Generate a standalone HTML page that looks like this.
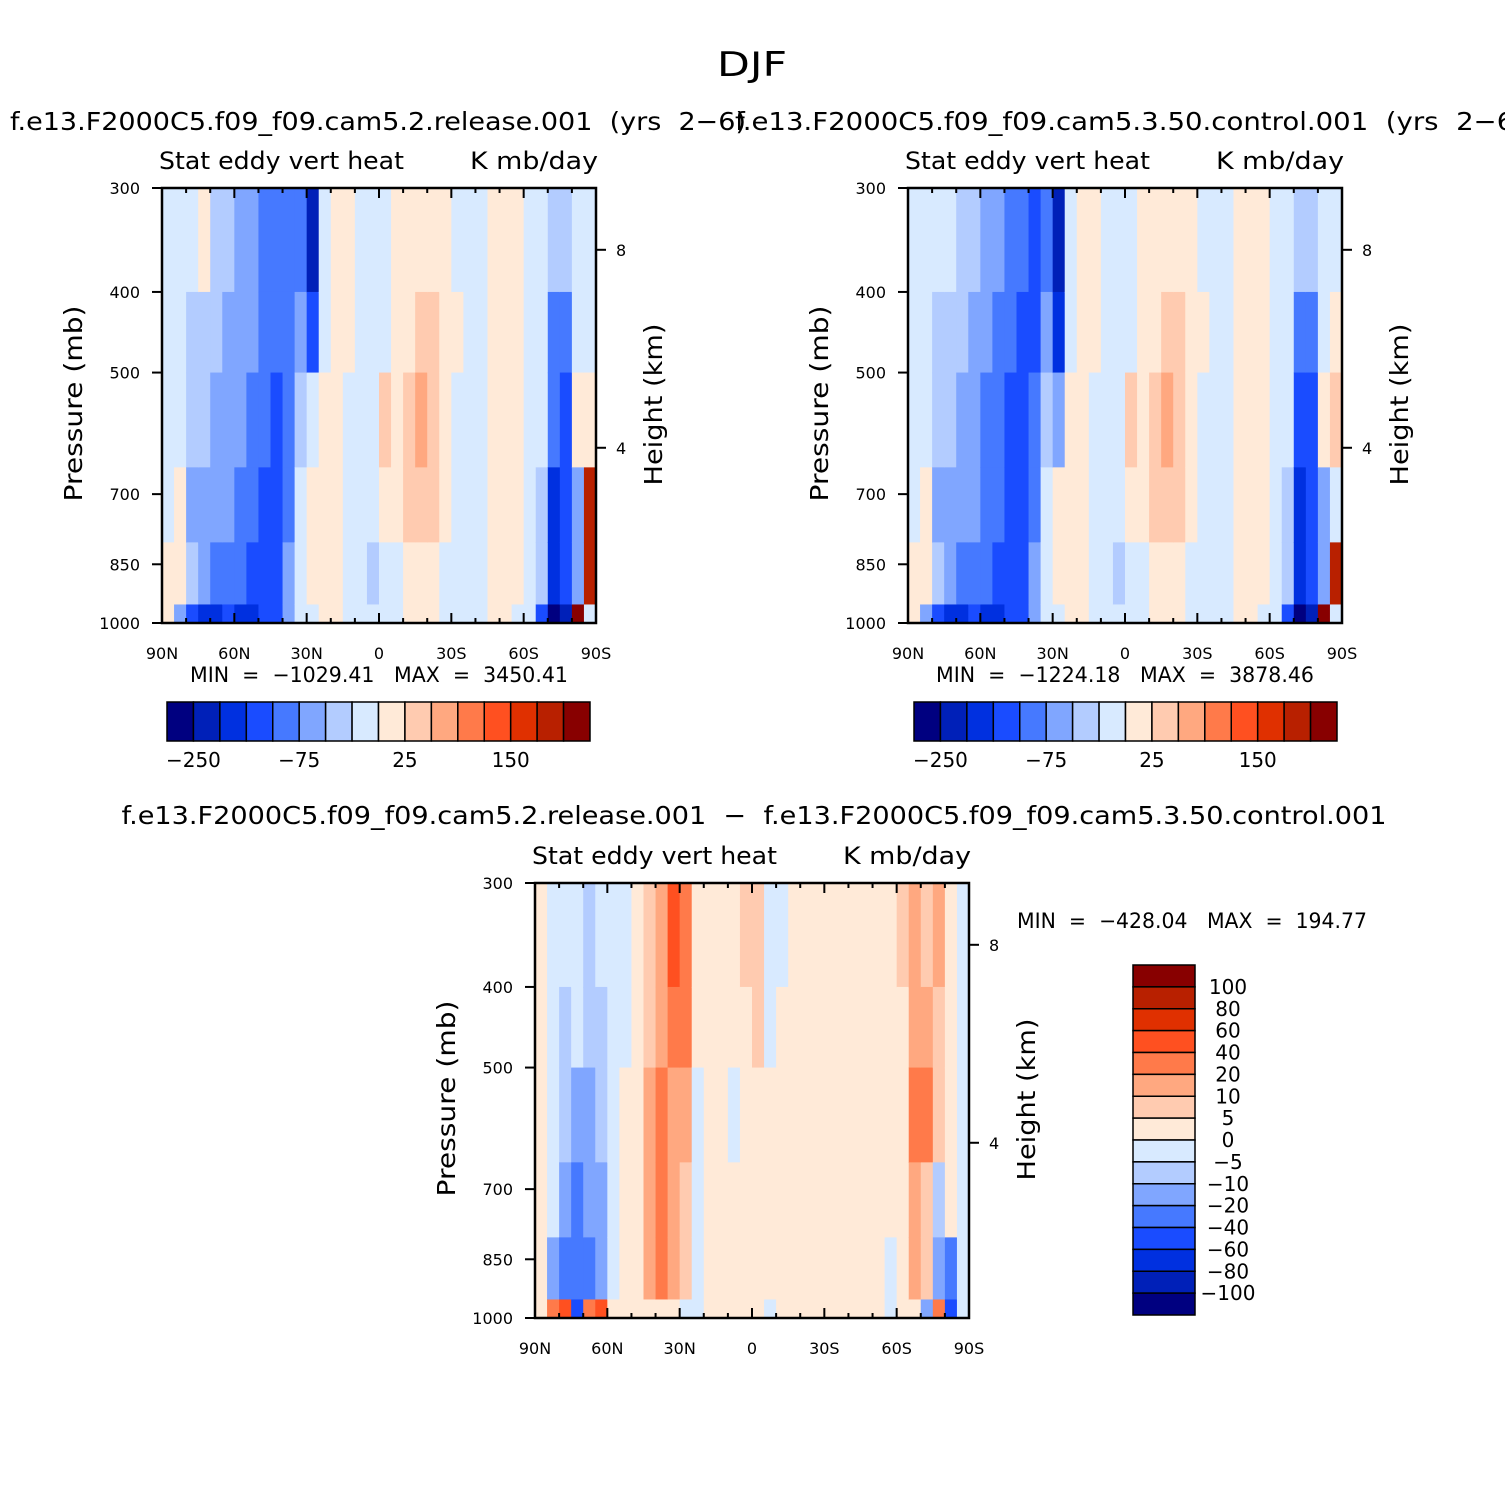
<!DOCTYPE html>
<html><head><meta charset="utf-8"><style>
body{margin:0;background:#fff}
svg text{font-family:"DejaVu Sans","Liberation Sans",sans-serif;fill:#000}
</style></head><body>
<svg id="fig" xmlns="http://www.w3.org/2000/svg" width="1505" height="1505" viewBox="0 0 1505 1505">
<rect width="1505" height="1505" fill="#fff"/>
<text x="752" y="76" font-size="34" text-anchor="middle" textLength="70" lengthAdjust="spacingAndGlyphs">DJF</text>
</svg>
<script>
// ---- data ----
const latLabels = ["90N","60N","30N","0","30S","60S","90S"];
const pressureTicks = [300,400,500,700,850,1000];
const heightTicks = [8,4];
const pressureRows = [300,400,500,650,800,950,1000];
const levelsAbs = [-250,-200,-150,-100,-75,-50,-25,0,25,50,75,100,150,200,250];
const levelsDiff = [-100,-80,-60,-40,-20,-10,-5,0,5,10,20,40,60,80,100];
const absBarLabels = ["-250","-75","25","150"];
const diffBarLabels = ["100","80","60","40","20","10","5","0","-5","-10","-20","-40","-60","-80","-100"];
const palette = ["#000080","#0020b8","#0030e0","#1a4cff","#4679ff","#80a6ff","#b3ccff","#d8eaff","#ffead8","#ffcbb0","#ffa880","#ff7a4a","#ff5020","#e03000","#b82000","#880000"];
// columns from 90N to 90S (5 deg), rows top(300mb) to bottom(1000mb)
const field1 = [
[-10,-10,-10,-10,10,10],[-10,-10,-10,10,10,-60],[-10,-40,-40,-60,-40,-120],[10,-40,-40,-60,-60,-180],
[-40,-40,-60,-60,-90,-180],[-40,-60,-60,-60,-90,-120],[-60,-60,-60,-90,-90,-180],[-60,-60,-90,-90,-120,-180],
[-90,-90,-90,-120,-120,-120],[-90,-90,-120,-120,-120,-120],[-90,-90,-90,-90,-60,-60],[-90,-60,-40,-10,-10,-10],
[-220,-120,-10,10,10,-10],[-10,-10,10,10,10,10],[10,10,10,10,10,10],[10,10,-10,-10,-10,-10],
[-10,-10,-10,-10,-10,-10],[-10,-10,-10,-10,-40,-10],[-10,-10,40,10,-10,-10],[10,10,10,10,-10,-10],
[10,10,40,40,10,10],[10,40,60,40,10,10],[10,40,40,40,10,10],[10,10,10,10,-10,-10],
[-10,10,-10,-10,-10,-10],[-10,-10,-10,-10,-10,-10],[-10,-10,-10,-10,-10,-10],[10,10,10,10,10,10],
[10,10,10,10,10,10],[10,10,10,10,10,-10],[-10,-10,-10,-10,-10,-10],[-10,-10,-10,-40,-40,-120],
[-40,-90,-90,-180,-180,-300],[-40,-90,-120,-120,-120,-250],[-10,-10,10,-60,-60,300],[-10,-10,10,200,200,-10]];
const field2 = [
[-10,-10,-10,-10,10,10],[-10,-10,-10,10,10,-60],[-10,-40,-40,-60,-40,-120],[-10,-40,-40,-60,-60,-180],
[-40,-40,-60,-60,-90,-180],[-40,-60,-60,-60,-90,-120],[-60,-60,-90,-90,-90,-180],[-60,-90,-90,-90,-120,-180],
[-90,-90,-120,-120,-120,-120],[-90,-120,-120,-120,-120,-120],[-120,-120,-90,-90,-60,-60],[-90,-60,-40,-10,-10,-10],
[-220,-180,-60,10,10,-10],[-10,-10,10,10,10,10],[10,10,10,10,10,10],[10,10,-10,-10,-10,-10],
[-10,-10,-10,-10,-10,-10],[-10,-10,-10,-10,-40,-10],[-10,-10,40,10,-10,-10],[10,10,10,10,-10,-10],
[10,10,40,40,10,10],[10,40,60,40,10,10],[10,40,40,40,10,10],[10,10,10,10,-10,-10],
[-10,10,-10,-10,-10,-10],[-10,-10,-10,-10,-10,-10],[-10,-10,-10,-10,-10,-10],[10,10,10,10,10,10],
[10,10,10,10,10,10],[10,10,10,10,10,-10],[-10,-10,-10,-10,-10,-10],[-10,-10,-10,-40,-40,-120],
[-40,-90,-120,-180,-180,-300],[-40,-90,-120,-120,-120,-250],[-10,-10,10,-60,-60,300],[-10,10,40,-10,200,-10]];
const field3 = [
[2,2,2,2,2,2],[-2,-2,-2,-2,-15,30],[-2,-7,-7,-15,-30,50],[-2,-2,-15,-30,-30,-60],
[-7,-7,-15,-15,-30,30],[-2,-7,-7,-15,-15,40],[-2,-2,-2,-2,-2,2],[-2,-2,2,2,2,2],
[2,2,2,2,2,2],[7,7,15,15,15,2],[15,15,30,30,30,2],[50,30,15,15,15,2],
[30,30,15,7,7,-2],[2,2,-2,-2,-2,-2],[2,2,2,2,2,2],[2,2,2,2,2,2],
[2,2,-2,2,2,2],[7,2,2,2,2,2],[7,7,2,2,2,2],[-2,-2,2,2,2,-2],
[-2,2,2,2,2,2],[2,2,2,2,2,2],[2,2,2,2,2,2],[2,2,2,2,2,2],
[2,2,2,2,2,2],[2,2,2,2,2,2],[2,2,2,2,2,2],[2,2,2,2,2,2],
[2,2,2,2,2,2],[2,2,2,2,-2,-2],[7,2,2,2,2,2],[15,15,30,15,15,2],
[7,15,30,7,7,-20],[15,7,7,-7,-15,30],[2,2,2,2,-30,-60],[-2,-2,-2,-2,-2,-2]];

const NS="http://www.w3.org/2000/svg";
const svg=document.getElementById('fig');
function mk(tag,attrs,parent){const e=document.createElementNS(NS,tag);for(const k in attrs)e.setAttribute(k,attrs[k]);(parent||svg).appendChild(e);return e;}
function txt(s,x,y,size,anchor,parent,rot,len){const t=mk('text',{x:x,y:y,'font-size':size,'text-anchor':anchor||'start'},parent);if(rot)t.setAttribute('transform',`rotate(-90 ${x} ${y})`);if(len){t.setAttribute('textLength',len);t.setAttribute('lengthAdjust','spacingAndGlyphs');}t.setAttribute('xml:space','preserve');t.style.whiteSpace='pre';t.textContent=s.replace(/-/g,'\u2212');return t;}
function colorFor(v,levels){let i=0;while(i<levels.length&&v>=levels[i])i++;return palette[i];}

function panel(name,x0,y0,field,levels,title,minmax){
  const W=434,H=435;
  const g=mk('g',{});
  
  
  const xs=lat=>x0+(90-lat)/180*W;
  const ys=p=>y0+(Math.log(p)-Math.log(300))/(Math.log(1000)-Math.log(300))*H;
  field.forEach((col,i)=>{
    col.forEach((v,j)=>{
      const la=90-i*5;
      const x1=xs(la),x2=xs(la-5),y1=ys(pressureRows[j]),y2=ys(pressureRows[j+1]);
      const r=mk('rect',{x:x1,y:y1,width:x2-x1+0.6,height:y2-y1+0.6,fill:colorFor(v,levels)},g);
      
      
    });
  });
  const fr=mk('rect',{x:x0,y:y0,width:W,height:H,fill:'none',stroke:'#000','stroke-width':2.5},g);
  
  
  for(let lat=90;lat>=-90;lat-=10){
    const x=xs(lat),major=lat%30===0,len=major?10:5;
    mk('line',{x1:x,y1:y0+H,x2:x,y2:y0+H-len,stroke:'#000','stroke-width':2},g);
    mk('line',{x1:x,y1:y0,x2:x,y2:y0+len,stroke:'#000','stroke-width':2},g);
  }
  latLabels.forEach((s,i)=>{const t=txt(s,x0+i*W/6,y0+H+36,16,'middle',g);});
  pressureTicks.forEach(p=>{
    const y=ys(p);
    mk('line',{x1:x0,y1:y,x2:x0-10,y2:y,stroke:'#000','stroke-width':2},g);
    const t=txt(String(p),x0-22,y+6,16,'end',g);
  });
  heightTicks.forEach(h=>{
    const p=1065*Math.exp(-h/7.3);
    const y=ys(p);
    mk('line',{x1:x0+W,y1:y,x2:x0+W+10,y2:y,stroke:'#000','stroke-width':2},g);
    const t=txt(String(h),x0+W+20,y+6,16,'start',g);
  });
  let t=txt('Pressure (mb)',x0-80,y0+H/2-2,25,'middle',g,true,196);
  t=txt('Height (km)',x0+W+66,y0+H/2-1,25,'middle',g,true,162);
  t=txt('Stat eddy vert heat',x0-3,y0-19,24,'start',g,false,245);
  t=txt('K mb/day',x0+W+2,y0-19,24,'end',g,false,128);
  if(title){t=txt(title.s,title.x,title.y,25,title.a,g,false,title.l);}
  if(minmax){t=txt(minmax.s,minmax.x,minmax.y,21,minmax.a,g,false,minmax.l);}
}
function hbar(name,x0,y0){
  const g=mk('g',{});
  
  
  const w=423/16;
  palette.forEach((c,i)=>{const r=mk('rect',{x:x0+i*w,y:y0,width:w,height:39,fill:c,stroke:'#000','stroke-width':1.5},g);});
  absBarLabels.forEach((s,k)=>{const t=txt(s,x0+(1+4*k)*w,y0+65,20,'middle',g);});
}
panel('panel-cam52',162,188,field1,levelsAbs,{s:'f.e13.F2000C5.f09_f09.cam5.2.release.001  (yrs  2-6)',x:10,y:130,a:'start',l:736},{s:'MIN  =  -1029.41   MAX  =  3450.41',x:190,y:682,a:'start',l:378});
panel('panel-cam53',908,188,field2,levelsAbs,{s:'f.e13.F2000C5.f09_f09.cam5.3.50.control.001  (yrs  2-6)',x:735,y:130,a:'start',l:790},{s:'MIN  =  -1224.18   MAX  =  3878.46',x:936,y:682,a:'start',l:378});
panel('panel-difference',535,883,field3,levelsDiff,{s:'f.e13.F2000C5.f09_f09.cam5.2.release.001  -  f.e13.F2000C5.f09_f09.cam5.3.50.control.001',x:754,y:824,a:'middle',l:1265},{s:'MIN  =  -428.04   MAX  =  194.77',x:1017,y:928,a:'start',l:350});
hbar('colorbar-cam52',167,702);
hbar('colorbar-cam53',914,702);
(function(){
  const g=mk('g',{});
  
  
  const x0=1133,y0=965,h=350/16;
  palette.slice().reverse().forEach((c,i)=>{const r=mk('rect',{x:x0,y:y0+i*h,width:62,height:h,fill:c,stroke:'#000','stroke-width':1.5},g);});
  diffBarLabels.forEach((s,i)=>{const t=txt(s,1228,y0+(i+1)*h+7,20,'middle',g);});
})();
</script>
</body></html>
